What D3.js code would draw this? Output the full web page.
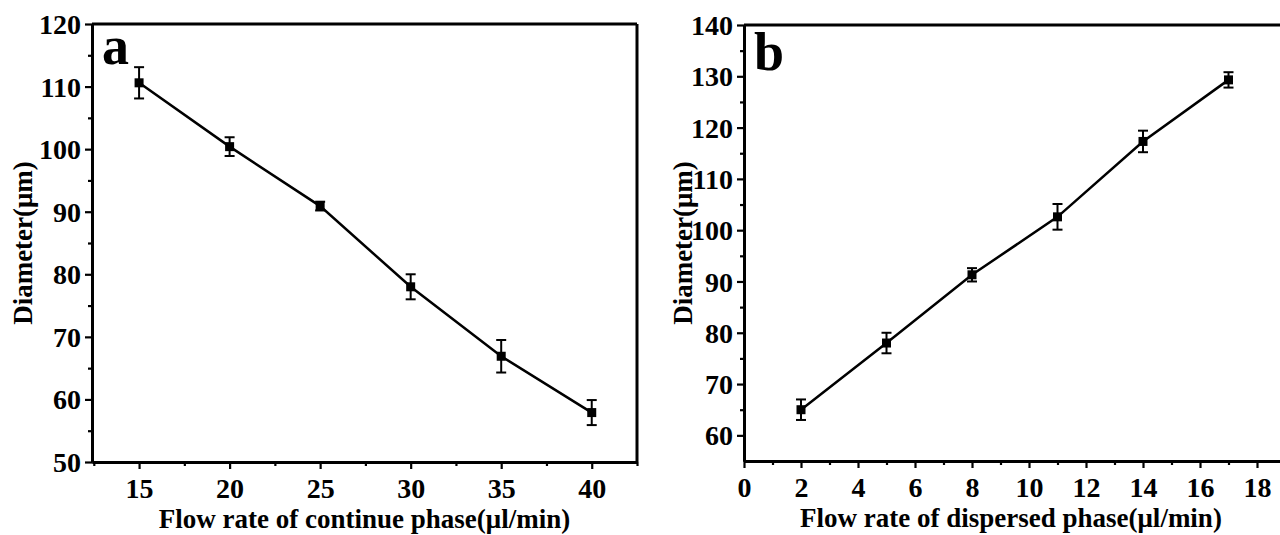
<!DOCTYPE html>
<html>
<head>
<meta charset="utf-8">
<script src="https://cdn.jsdelivr.net/npm/d3@7"></script>
<style>
  body { margin: 0; background: #fff; }
  svg text { font-family: "Liberation Serif", "Times New Roman", serif; font-weight: bold; fill: #000; }
</style>
</head>
<body>
<div id="chart_id"></div>
<script>
// Panel a: diameter vs continuous phase flow rate
var flowA = [15, 20, 25, 30, 35, 40]
var diamA = [110.6, 100.4, 90.9, 78.0, 66.9, 57.9]
var errA  = [2.5, 1.5, 0.7, 2.0, 2.6, 2.0]
var xTicksA = [15, 20, 25, 30, 35, 40]
var yTicksA = [50, 60, 70, 80, 90, 100, 110, 120]

// Panel b: diameter vs dispersed phase flow rate
var flowB = [2, 5, 8, 11, 14, 17]
var diamB = [65.0, 78.0, 91.3, 102.6, 117.3, 129.3]
var errB  = [2.0, 2.0, 1.3, 2.5, 2.1, 1.5]
var xTicksB = [0, 2, 4, 6, 8, 10, 12, 14, 16, 18]
var yTicksB = [60, 70, 80, 90, 100, 110, 120, 130, 140]

var width = 1280
var height = 535

var svg = d3.select("#chart_id")
  .append("svg")
  .attr("width", width)
  .attr("height", height)

function drawPanel(p) {
  var x = d3.scaleLinear().domain(p.xDomain).range([p.left, p.right])
  var y = d3.scaleLinear().domain(p.yDomain).range([p.bottom, p.top])
  var g = svg.append("g")

  // minor ticks (no labels) halfway between the major ones
  var xMinor = p.xTicks.slice(0, -1).map(function(d, i) { return (d + p.xTicks[i + 1]) / 2 })
  var yMinor = p.yTicks.slice(0, -1).map(function(d, i) { return (d + p.yTicks[i + 1]) / 2 })
  xMinor = xMinor.concat(p.xExtraMinor || [])

  g.append("g")
    .attr("transform", "translate(0," + p.bottom + ")")
    .call(d3.axisBottom(x).tickValues(xMinor).tickSize(4).tickSizeOuter(0).tickFormat(""))
  g.append("g")
    .attr("transform", "translate(" + p.left + ",0)")
    .call(d3.axisLeft(y).tickValues(yMinor).tickSize(4).tickSizeOuter(0).tickFormat(""))

  g.append("g")
    .attr("transform", "translate(0," + p.bottom + ")")
    .call(d3.axisBottom(x).tickValues(p.xTicks).tickSize(7).tickSizeOuter(0).tickPadding(9))
  var yAxis = g.append("g")
    .attr("transform", "translate(" + p.left + ",0)")
    .call(d3.axisLeft(y).tickValues(p.yTicks).tickSize(7).tickSizeOuter(0).tickPadding(4))

  g.selectAll(".tick line").attr("stroke", "#000").attr("stroke-width", 2.2)
  g.selectAll(".domain").attr("stroke", "#000").attr("stroke-width", 3)
  g.selectAll(".tick text").style("font-size", "28px").attr("fill", "#000")
  yAxis.selectAll(".tick text").attr("dy", "0.34em")

  // top and right borders
  g.append("line")
    .attr("x1", p.left).attr("x2", p.right)
    .attr("y1", p.top).attr("y2", p.top)
    .attr("stroke", "#000").attr("stroke-width", 3)
  g.append("line")
    .attr("x1", p.right).attr("x2", p.right)
    .attr("y1", p.top).attr("y2", p.bottom)
    .attr("stroke", "#000").attr("stroke-width", 3)

  var pts = p.xs.map(function(d, i) { return { x: d, y: p.ys[i], e: p.es[i] } })

  g.append("path")
    .datum(pts)
    .attr("fill", "none")
    .attr("stroke", "#000")
    .attr("stroke-width", 2.5)
    .attr("d", d3.line().x(function(d) { return x(d.x) }).y(function(d) { return y(d.y) }))

  // error bars
  var eb = g.selectAll(".err").data(pts).enter().append("g").attr("stroke", "#000").attr("stroke-width", 2)
  eb.append("line")
    .attr("x1", function(d) { return x(d.x) }).attr("x2", function(d) { return x(d.x) })
    .attr("y1", function(d) { return y(d.y - d.e) }).attr("y2", function(d) { return y(d.y + d.e) })
  eb.append("line")
    .attr("x1", function(d) { return x(d.x) - 5 }).attr("x2", function(d) { return x(d.x) + 5 })
    .attr("y1", function(d) { return y(d.y + d.e) }).attr("y2", function(d) { return y(d.y + d.e) })
  eb.append("line")
    .attr("x1", function(d) { return x(d.x) - 5 }).attr("x2", function(d) { return x(d.x) + 5 })
    .attr("y1", function(d) { return y(d.y - d.e) }).attr("y2", function(d) { return y(d.y - d.e) })

  // square markers
  g.selectAll(".marker").data(pts).enter().append("rect")
    .attr("x", function(d) { return x(d.x) - 4.5 })
    .attr("y", function(d) { return y(d.y) - 4.5 })
    .attr("width", 9).attr("height", 9)
    .attr("fill", "#000")

  // axis titles
  g.append("text")
    .attr("x", (p.left + Math.min(p.right, p.visibleRight || p.right)) / 2 + (p.titleShift || 0))
    .attr("y", p.bottom + 66)
    .attr("text-anchor", "middle")
    .style("font-size", "27px")
    .text(p.xTitle)
  g.append("text")
    .attr("transform", "translate(" + p.yTitleX + "," + (p.top + p.bottom) / 2 + ") rotate(-90)")
    .attr("text-anchor", "middle")
    .style("font-size", "27px")
    .text("Diameter(\u03bcm)")

  // panel letter
  g.append("text")
    .attr("x", p.left + 10)
    .attr("y", p.letterY)
    .style("font-size", "54px")
    .text(p.letter)
}

drawPanel({
  xs: flowA, ys: diamA, es: errA,
  xTicks: xTicksA, yTicks: yTicksA,
  xDomain: [12.4, 42.5], yDomain: [50, 120],
  left: 92, right: 637, top: 24, bottom: 462,
  xExtraMinor: [12.5, 42.5],
  xTitle: "Flow rate of continue phase(\u03bcl/min)",
  yTitleX: 32, letter: "a", letterY: 64
})

drawPanel({
  xs: flowB, ys: diamB, es: errB,
  xTicks: xTicksB, yTicks: yTicksB,
  xDomain: [0, 19], yDomain: [55, 140],
  left: 744, right: 1285.5, top: 25, bottom: 461,
  xExtraMinor: [],
  xTitle: "Flow rate of dispersed phase(\u03bcl/min)",
  visibleRight: 1270, titleShift: 4,
  yTitleX: 692, letter: "b", letterY: 70
})
</script>
</body>
</html>
